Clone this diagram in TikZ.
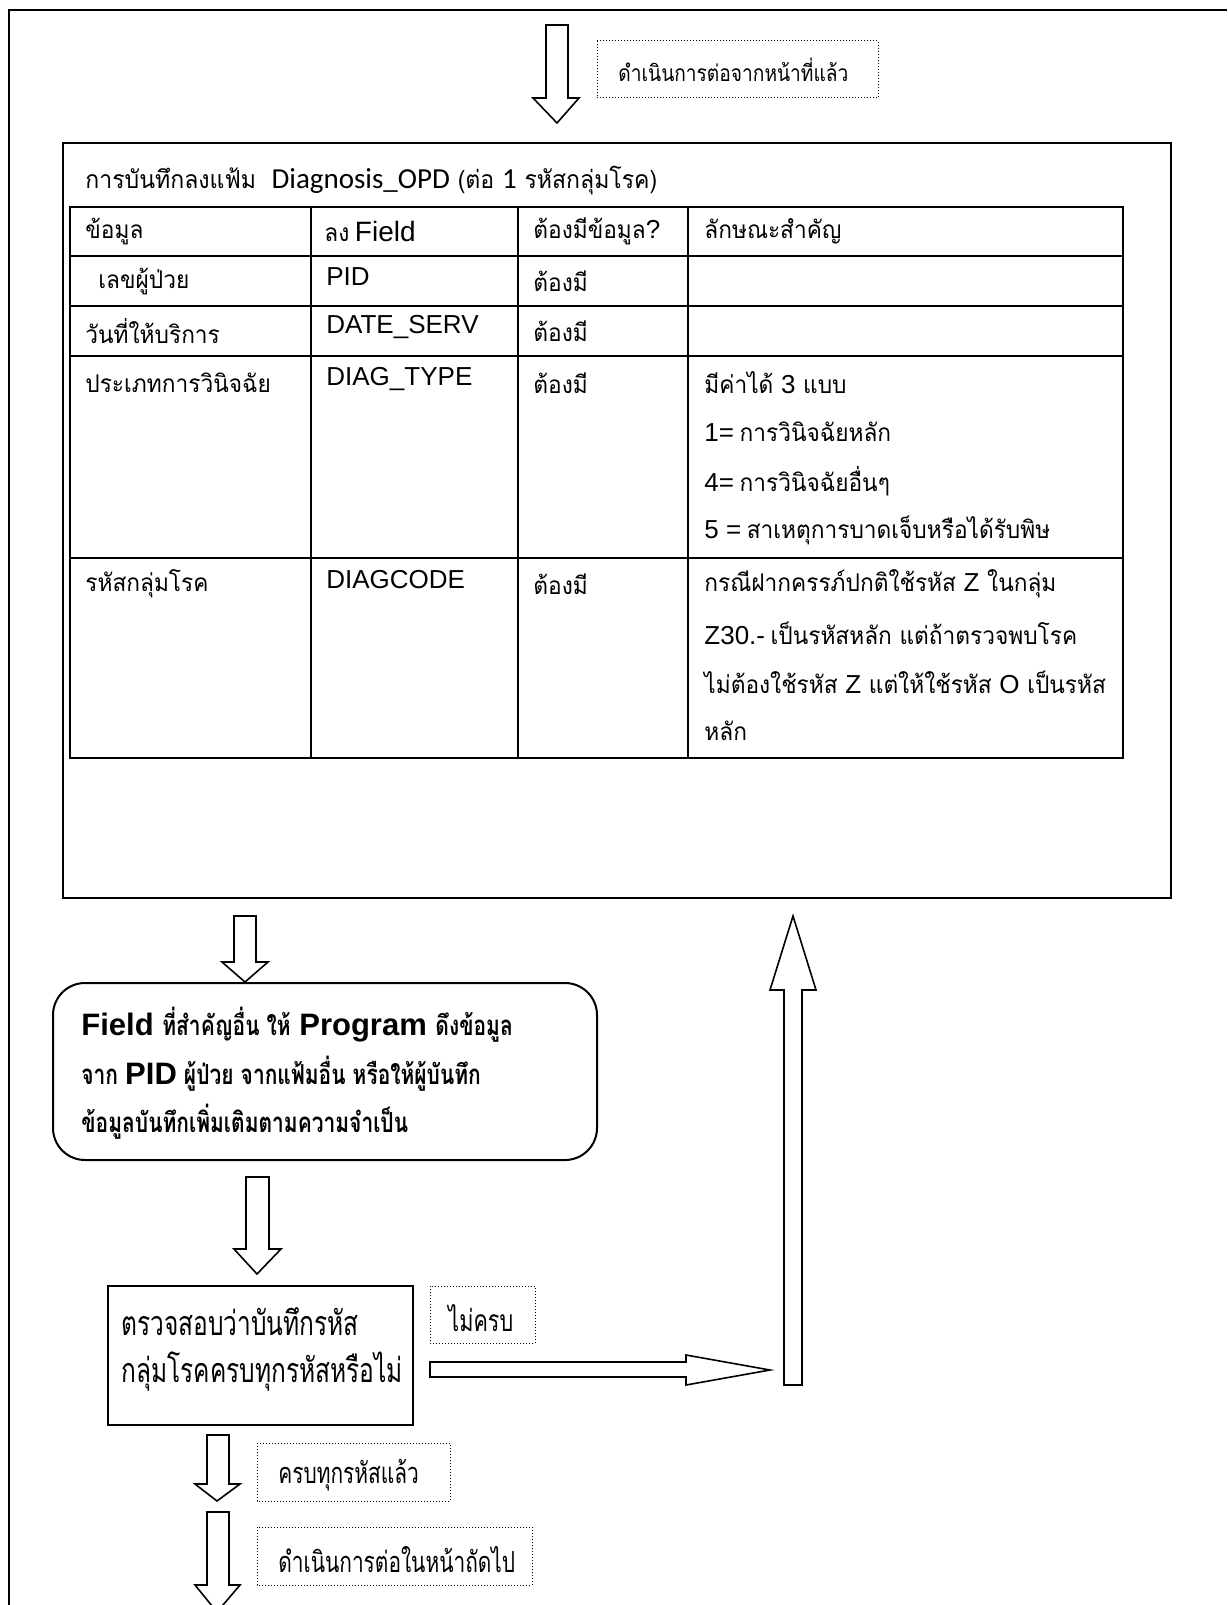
\documentclass[tikz,border=0pt]{standalone}
\usepackage{fontspec}
\setmainfont{Liberation Sans}
\newfontfamily\thfont[Script=Thai,FakeStretch=0.93]{Loma}
\newfontfamily\thnarrow[Script=Thai,FakeStretch=0.72]{Loma}
\newfontfamily\thmid[Script=Thai,FakeStretch=0.84]{Loma}
\newfontfamily\thbox[Script=Thai,FakeStretch=0.76]{Loma}
\newfontfamily\calfont{Carlito}
\newcommand\tabfs{\fontsize{12.2}{14}\selectfont}
\newcommand\latfs{\fontsize{13}{15}\selectfont}
\newcommand\boxlat{\fontsize{16}{18}\selectfont}
\newcommand\boxth{\fontsize{13.8}{16}\selectfont}
\begin{document}
\begin{tikzpicture}[x=0.5pt,y=-0.5pt,
  frameline/.style={line width=1pt},
  blk/.style={draw, line width=0.8pt, fill=white, line join=miter},
  dotbox/.style={draw, line width=0.5pt, dash pattern=on 0.5pt off 1pt},
  txt/.style={anchor=west, inner sep=0pt},
  gridline/.style={line width=1pt}]
\useasboundingbox (0,0) rectangle (1227,1605);
% page frame (top and left only)
\draw[frameline] (1227,10) -- (9,10) -- (9,1605);

% top arrow and label
\draw[blk] (546,25) -- (568,25) -- (568,98) -- (579,98) -- (557,123) -- (533,98) -- (546,98) -- cycle;
\draw[dotbox] (597,41) rectangle (878,98);
\node[txt] (prev) at (618,70) {\thmid\fontsize{11.4}{14}\selectfont ดำเนินการต่อจากหน้าที่แล้ว};

% main box
\draw[frameline] (63,143) rectangle (1171,898);
\node[txt] (title) at (85,181) {\thfont\fontsize{12.4}{14}\selectfont การบันทึกลงแฟ้ม\ \ {\calfont\fontsize{14.5}{16}\selectfont Diagnosis\_OPD} (ต่อ {\calfont\fontsize{14.5}{16}\selectfont 1} รหัสกลุ่มโรค)};

% table grid
\draw[gridline] (70,207) rectangle (1123,758);
\foreach \yy in {256,306,356,558} \draw[gridline] (70,\yy) -- (1123,\yy);
\foreach \xx in {311,518,688} \draw[gridline] (\xx,207) -- (\xx,758);

% header
\node[txt] (h1) at (85,231) {\thfont\tabfs ข้อมูล};
\node[txt] (h2) at (324,231) {{\thfont\tabfs ลง} \fontsize{14}{16}\selectfont Field};
\node[txt] (h3) at (533,231) {\thfont\tabfs ต้องมีข้อมูล{\latfs\fontspec{Liberation Sans}?}};
\node[txt] (h4) at (704,231) {\thfont\tabfs ลักษณะสำคัญ};
% PID row
\node[txt] (r1a) at (98,281) {\thfont\tabfs เลขผู้ป่วย};
\node[txt] (r1b) at (326,277) {\latfs PID};
\node[txt] (r1c) at (533,281) {\thfont\tabfs ต้องมี};
% DATE row
\node[txt] (r2a) at (85,331) {\thfont\tabfs วันที่ให้บริการ};
\node[txt] (r2b) at (326,327) {\latfs DATE\_SERV};
\node[txt] (r2c) at (533,331) {\thfont\tabfs ต้องมี};
% DIAG row
\node[txt] (r3a) at (85,383) {\thfont\tabfs ประเภทการวินิจฉัย};
\node[txt] (r3b) at (326,379) {\latfs DIAG\_TYPE};
\node[txt] (r3c) at (533,383) {\thfont\tabfs ต้องมี};
\node[txt] (r3d1) at (704,383) {\thfont\tabfs มีค่าได้ {\latfs\fontspec{Liberation Sans}3} แบบ};
\node[txt] (r3d2) at (704,432) {{\latfs 1=} \thfont\tabfs การวินิจฉัยหลัก};
\node[txt] (r3d3) at (704,481) {{\latfs 4=} \thfont\tabfs การวินิจฉัยอื่นๆ};
\node[txt] (r3d4) at (704,530) {{\latfs 5 =} \thfont\tabfs สาเหตุการบาดเจ็บหรือได้รับพิษ};
% DIAGCODE row
\node[txt] (r4a) at (85,584) {\thfont\tabfs รหัสกลุ่มโรค};
\node[txt] (r4b) at (326,580) {\latfs DIAGCODE};
\node[txt] (r4c) at (533,584) {\thfont\tabfs ต้องมี};
\node[txt] (r4d1) at (704,584) {\thfont\tabfs กรณีฝากครรภ์ปกติใช้รหัส {\latfs\fontspec{Liberation Sans}Z} ในกลุ่ม};
\node[txt] (r4d2) at (704,633) {{\latfs Z30.-} \thfont\tabfs เป็นรหัสหลัก แต่ถ้าตรวจพบโรค};
\node[txt] (r4d3) at (704,682) {\thfont\tabfs ไม่ต้องใช้รหัส {\latfs\fontspec{Liberation Sans}Z} แต่ให้ใช้รหัส {\latfs\fontspec{Liberation Sans}O} เป็นรหัส};
\node[txt] (r4d4) at (704,731) {\thfont\tabfs หลัก};

% arrow to rounded box
\draw[blk] (234,916) -- (256,916) -- (256,962) -- (268,962) -- (245,982) -- (222,962) -- (234,962) -- cycle;

% rounded box
\draw[line width=1pt, rounded corners=16pt] (53,983) rectangle (597,1160);
\node[txt] (b1) at (81,1025) {\bfseries\fontsize{15.5}{18}\selectfont Field {\thbox\boxth ที่สำคัญอื่น ให้} Program {\thbox\boxth ดึงข้อมูล}};
\node[txt] (b2) at (81,1074) {\bfseries\thbox\boxth จาก {\fontspec{Liberation Sans}\fontsize{15.5}{18}\selectfont PID} ผู้ป่วย จากแฟ้มอื่น หรือให้ผู้บันทึก};
\node[txt] (b3) at (81,1122) {\bfseries\thbox\boxth ข้อมูลบันทึกเพิ่มเติมตามความจำเป็น};

% arrow to check box
\draw[blk] (246,1177) -- (269,1177) -- (269,1249) -- (281,1249) -- (257,1274) -- (234,1249) -- (246,1249) -- cycle;

% check box
\draw[line width=1pt] (108,1286) rectangle (413,1425);
\node[txt] (c1) at (121,1322) {\thnarrow\fontsize{17}{20}\selectfont ตรวจสอบว่าบันทึกรหัส};
\node[txt] (c2) at (121,1372) {\thnarrow\fontsize{17}{20}\selectfont กลุ่มโรคครบทุกรหัสหรือไม่};

% not complete label
\draw[dotbox] (430,1286) rectangle (535,1343);
\node[txt] (nc) at (448,1318) {\thnarrow\fontsize{15}{18}\selectfont ไม่ครบ};

% right arrow
\draw[blk] (430,1362) -- (686,1362) -- (686,1355) -- (770,1370) -- (686,1385) -- (686,1377) -- (430,1377) -- cycle;
% up arrow
\draw[blk] (784,1385) -- (784,990) -- (770,990) -- (793,916) -- (816,990) -- (802,990) -- (802,1385) -- cycle;

% arrow down (complete)
\draw[blk] (207,1435) -- (229,1435) -- (229,1484) -- (240,1484) -- (217,1501) -- (195,1484) -- (207,1484) -- cycle;
\draw[dotbox] (257,1443) rectangle (450,1501);
\node[txt] (done) at (278,1475) {\thnarrow\fontsize{14.5}{17}\selectfont ครบทุกรหัสแล้ว};

% arrow down (next page)
\draw[blk] (207,1512) -- (229,1512) -- (229,1585) -- (240,1585) -- (217,1612) -- (195,1585) -- (207,1585) -- cycle;
\draw[dotbox] (257,1527) rectangle (532,1585);
\node[txt] (next) at (278,1560) {\thnarrow\fontsize{14.5}{17}\selectfont ดำเนินการต่อในหน้าถัดไป};
\end{tikzpicture}
\end{document}
